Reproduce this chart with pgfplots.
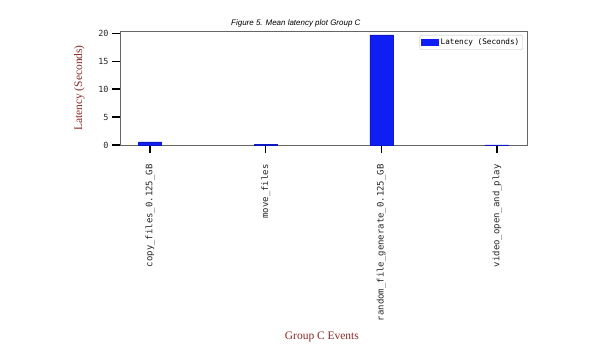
\documentclass[border=0pt]{standalone}
\usepackage{fontspec}
\setmainfont{Liberation Serif}
\setsansfont{Liberation Sans}
\setmonofont{DejaVu Sans Mono}
\usepackage{pgfplots}
\pgfplotsset{compat=1.18}
\usetikzlibrary{calc}
\definecolor{barblue}{RGB}{15,30,245}
\definecolor{labred}{RGB}{140,40,40}
\begin{document}
\begin{tikzpicture}[x=1bp,y=1bp]
\begin{axis}[
  name=ax,
  scale only axis, width=407bp, height=114bp,
  xmin=-0.26, xmax=3.26, ymin=0, ymax=20.4,
  ybar, bar width=23bp,
  xtick={0,1,2,3},
  xticklabels={copy\_files\_0.125\_GB, move\_files, random\_file\_generate\_0.125\_GB, video\_open\_and\_play},
  xticklabel style={rotate=90, anchor=east, font=\ttfamily\fontsize{9}{9}\selectfont, text=black!85},
  xticklabel shift=8bp,
  ytick={0,5,10,15,20},
  yticklabel style={font=\ttfamily\fontsize{8.5}{8.5}\selectfont, text=black!85},
  /pgf/number format/assume math mode=true,
  tick align=outside, xtick pos=lower, ytick pos=left,
  major tick length=8bp,
  every tick/.style={black, line width=1.3bp},
  axis line style={black!60, line width=0.8bp},
  title={\sffamily\itshape\fontsize{8}{8}\selectfont Figure 5. Mean latency plot Group C},
  title style={at={(axis description cs:0.432,1)}, anchor=south, inner sep=0pt, yshift=-2.5bp},
  ylabel={Latency (Seconds)},
  ylabel style={at={(axis description cs:-0.1,0.5)}, anchor=center, text=labred, font=\fontsize{11.5}{11.5}\selectfont},
  xlabel={Group C Events},
  xlabel style={at={(axis description cs:0.496,-1.684)}, anchor=center, text=labred, font=\fontsize{11.5}{11.5}\selectfont},
  legend style={at={(0.99,0.965)}, anchor=north east, draw=black!25, rounded corners=2bp, font=\ttfamily\fontsize{7.7}{7.7}\selectfont, inner sep=1.5bp},
  legend image code/.code={\fill[barblue, sharp corners] (0cm,-0.1cm) rectangle (0.6cm,0.1cm);},
]
\addplot[fill=barblue, draw=barblue!80!black, line width=0.5bp] coordinates {(0,0.55) (1,0.1) (2,19.7) (3,0.02)};
\addlegendentry{Latency (Seconds)}
\coordinate (BL) at (rel axis cs:0,0);
\end{axis}
\pgfresetboundingbox
\path[use as bounding box] ($(BL)+(-120,-209)$) rectangle ($(BL)+(480,145)$);
\end{tikzpicture}
\end{document}
